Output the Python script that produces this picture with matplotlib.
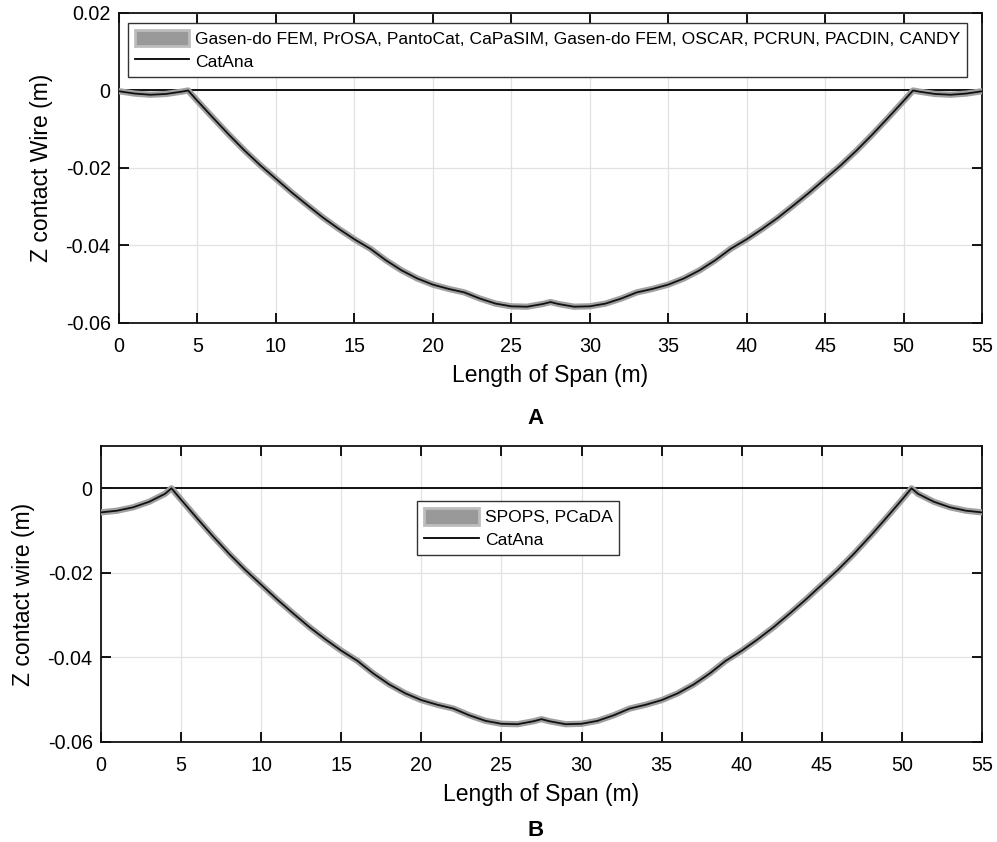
import matplotlib.pyplot as plt
import numpy as np
from matplotlib.patches import Patch
from matplotlib.lines import Line2D

plt.rcParams['font.family'] = ['Liberation Sans', 'DejaVu Sans']

# span positions (m) and contact wire height (m)
x_mid = [4.4, 5, 6, 7, 8, 9, 10, 11, 12, 13, 14, 15, 16, 17, 18, 19, 20, 21, 22,
         23, 24, 25, 26, 27, 27.5, 28, 29, 30, 31, 32, 33, 34, 35, 36, 37, 38, 39,
         40, 41, 42, 43, 44, 45, 46, 47, 48, 49, 50, 50.6]
z_mid = [0.0, -0.0027, -0.0071, -0.0114, -0.0155, -0.0193, -0.0228, -0.0263,
         -0.0296, -0.0328, -0.0357, -0.0384, -0.0408, -0.0438, -0.0464, -0.0485,
         -0.0501, -0.0512, -0.0521, -0.0537, -0.0550, -0.0557, -0.0558, -0.0551,
         -0.0546, -0.0551, -0.0558, -0.0557, -0.0550, -0.0537, -0.0521, -0.0512,
         -0.0501, -0.0485, -0.0464, -0.0438, -0.0408, -0.0384, -0.0357, -0.0328,
         -0.0296, -0.0263, -0.0228, -0.0193, -0.0155, -0.0114, -0.0071, -0.0027, 0.0]

# end spans, panel A
xa_left = [0, 1, 2, 3, 4]
za_left = [-0.0002, -0.0008, -0.0011, -0.0009, -0.0003]
xa_right = [51, 52, 53, 54, 55]
za_right = [-0.0003, -0.0009, -0.0011, -0.0008, -0.0002]

# end spans, panel B
xb_left = [0, 1, 2, 3, 4]
zb_left = [-0.0057, -0.0053, -0.0045, -0.0032, -0.0013]
xb_right = [51, 52, 53, 54, 55]
zb_right = [-0.0013, -0.0032, -0.0045, -0.0053, -0.0057]

xA = np.array(xa_left + x_mid + xa_right)
zA = np.array(za_left + z_mid + za_right)
xB = np.array(xb_left + x_mid + xb_right)
zB = np.array(zb_left + z_mid + zb_right)

gray = '#a0a0a0'


def fmt(v):
    if abs(v) < 1e-12:
        return '0'
    return '%g' % v


def style(ax, yticks):
    ax.set_xlim(0, 55)
    ax.set_xticks(np.arange(0, 56, 5))
    ax.set_yticks(yticks)
    ax.set_yticklabels([fmt(v) for v in yticks])
    ax.grid(True, color='#e2e2e2', lw=0.9)
    ax.set_axisbelow(True)
    ax.tick_params(direction='in', length=7, width=1.3, top=True, right=True,
                   labelsize=14.2)
    ax.tick_params(axis='x', pad=10)
    ax.tick_params(axis='y', pad=6)
    for s in ax.spines.values():
        s.set_linewidth(1.3)
        s.set_color('#111111')
    ax.axhline(0, color='#111111', lw=1.4, zorder=2)


def draw(ax, x, z):
    ax.plot(x, z, color=gray, lw=4.5, solid_capstyle='round',
            solid_joinstyle='round', zorder=3)
    ax.plot(x, z, color='#111111', lw=1.3, solid_joinstyle='round', zorder=4)


fig = plt.figure(figsize=(9.97, 8.42), dpi=100)

h_gray = Patch(facecolor='#999999', edgecolor='#bdbdbd', lw=2)
h_black = Line2D([], [], color='black', lw=1.3)
leg_kw = dict(loc='upper left', fontsize=12.6, fancybox=False, edgecolor='#333333',
              framealpha=1, handlelength=3.1, handleheight=1.1, borderaxespad=0,
              labelspacing=0.3, handletextpad=0.35, borderpad=0.4)

# --- panel A
ax1 = fig.add_axes([0.1194, 0.6164, 0.8656, 0.3682])
draw(ax1, xA, zA)
ax1.set_ylim(-0.06, 0.02)
style(ax1, [-0.06, -0.04, -0.02, 0, 0.02])
ax1.set_xlabel('Length of Span (m)', fontsize=16.5, labelpad=6)
ax1.set_ylabel('Z contact Wire (m)', fontsize=16.5, labelpad=9)
ax1.legend([h_gray, h_black],
           ['Gasen-do FEM, PrOSA, PantoCat, CaPaSIM, Gasen-do FEM, OSCAR, PCRUN, PACDIN, CANDY',
            'CatAna'],
           bbox_to_anchor=(0.01, 0.969), **leg_kw)
fig.text(0.537, 1 - 419 / 842, 'A', ha='center', va='center', fontsize=16, fontweight='bold')

# --- panel B
ax2 = fig.add_axes([0.1013, 0.1188, 0.8837, 0.3515])
draw(ax2, xB, zB)
ax2.set_ylim(-0.06, 0.01)
style(ax2, [-0.06, -0.04, -0.02, 0])
ax2.set_xlabel('Length of Span (m)', fontsize=16.5, labelpad=6)
ax2.set_ylabel('Z contact wire (m)', fontsize=16.5, labelpad=9)
ax2.legend([h_gray, h_black], ['SPOPS, PCaDA', 'CatAna'],
           bbox_to_anchor=(0.359, 0.814), **leg_kw)
fig.text(0.537, 1 - 830 / 842, 'B', ha='center', va='center', fontsize=16, fontweight='bold')

fig.savefig('out.png', dpi=100)
